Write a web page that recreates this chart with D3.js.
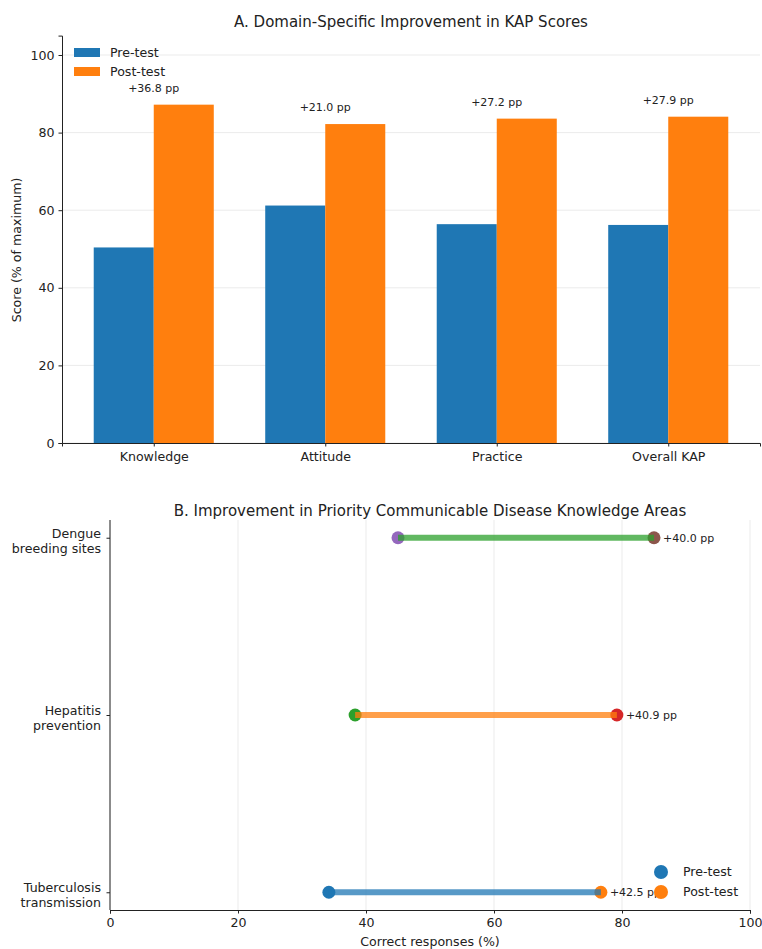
<!DOCTYPE html>
<html>
<head>
<meta charset="utf-8">
<script src="https://cdn.jsdelivr.net/npm/d3@7"></script>
<style>
  body { margin: 0; background: #fff; }
  text { font-family: "DejaVu Sans", sans-serif; fill: #222; }
  .axis path, .axis line { stroke: #222; }
  .axis text { font-size: 12.6px; font-family: "DejaVu Sans", sans-serif; fill: #222; }
</style>
</head>
<body>
<div id="chart-area"></div>
<script>

// Panel A data
let domains = ["Knowledge", "Attitude", "Practice", "Overall KAP"];
let preScores = [50.4, 61.2, 56.4, 56.2];
let postScores = [87.2, 82.2, 83.6, 84.1];
let scoreTicks = [0, 20, 40, 60, 80, 100];

// Panel B data (bottom to top)
let topics = [["Tuberculosis", "transmission"], ["Hepatitis", "prevention"], ["Dengue", "breeding sites"]];
let prePct = [34.2, 38.3, 45.0];
let postPct = [76.7, 79.2, 85.0];
let pctTicks = [0, 20, 40, 60, 80, 100];

let tab10 = ["#1f77b4", "#ff7f0e", "#2ca02c", "#d62728", "#9467bd", "#8c564b"];

let svg = d3.select("#chart-area").append("svg")
    .attr("width", 762)
    .attr("height", 949);

// ---------- Panel A ----------
let x = d3.scaleLinear().domain([-0.535, 3.535]).range([62, 760]);
let y = d3.scaleLinear().domain([0, 105]).range([443, 35.6]);
let barW = 0.35;

let gA = svg.append("g");

// grid
gA.selectAll(".grid").data(scoreTicks).enter().append("line")
    .attr("x1", 62).attr("x2", 760)
    .attr("y1", d => y(d)).attr("y2", d => y(d))
    .attr("stroke", "#e6e6e6").attr("stroke-width", 0.8);

gA.selectAll(".pre").data(preScores).enter().append("rect")
    .attr("x", (d, i) => x(i - barW))
    .attr("width", x(barW) - x(0))
    .attr("y", d => y(d))
    .attr("height", d => y(0) - y(d))
    .attr("fill", tab10[0]);

gA.selectAll(".post").data(postScores).enter().append("rect")
    .attr("x", (d, i) => x(i))
    .attr("width", x(barW) - x(0))
    .attr("y", d => y(d))
    .attr("height", d => y(0) - y(d))
    .attr("fill", tab10[1]);

// improvement labels
gA.selectAll(".lbl").data(postScores).enter().append("text")
    .attr("x", (d, i) => x(i))
    .attr("y", d => y(d + 3) - 1)
    .attr("text-anchor", "middle")
    .attr("font-size", "11px")
    .text((d, i) => "+" + (d - preScores[i]).toFixed(1) + " pp");

let xAxisA = d3.axisBottom(x).tickValues([0, 1, 2, 3])
    .tickFormat(i => domains[i]).tickSizeOuter(0).tickSize(3.5).tickPadding(6);
gA.append("g").attr("class", "axis")
    .attr("transform", "translate(0,443)")
    .call(xAxisA);

let yAxisA = d3.axisLeft(y).tickValues(scoreTicks).tickSizeOuter(0).tickSize(3.5).tickPadding(4);
gA.append("g").attr("class", "axis")
    .attr("transform", "translate(62,0)")
    .call(yAxisA);

gA.append("text")
    .attr("x", 411).attr("y", 27)
    .attr("text-anchor", "middle")
    .attr("font-size", "15px")
    .text("A. Domain-Specific Improvement in KAP Scores");

gA.append("text")
    .attr("transform", "translate(21,250) rotate(-90)")
    .attr("text-anchor", "middle")
    .attr("font-size", "12.6px")
    .text("Score (% of maximum)");

// legend
let legA = gA.append("g").attr("transform", "translate(74,48)");
["Pre-test", "Post-test"].forEach((t, i) => {
  legA.append("rect").attr("x", 0).attr("y", i * 19).attr("width", 26).attr("height", 9)
      .attr("fill", tab10[i]);
  legA.append("text").attr("x", 36).attr("y", i * 19 + 9).attr("font-size", "12.6px").text(t);
});

// ---------- Panel B ----------
let xb = d3.scaleLinear().domain([0, 100]).range([110, 750]);
let yb = d3.scaleLinear().domain([-0.1, 2.1]).range([910, 520]);

let gB = svg.append("g");

gB.selectAll(".vgrid").data(pctTicks).enter().append("line")
    .attr("x1", d => xb(d)).attr("x2", d => xb(d))
    .attr("y1", 520).attr("y2", 910)
    .attr("stroke", "#e6e6e6").attr("stroke-width", 0.8);

topics.forEach((t, i) => {
  gB.append("circle").attr("cx", xb(prePct[i])).attr("cy", yb(i)).attr("r", 6.5)
      .attr("fill", tab10[i * 2]);
  gB.append("circle").attr("cx", xb(postPct[i])).attr("cy", yb(i)).attr("r", 6.5)
      .attr("fill", tab10[i * 2 + 1]);
  gB.append("line")
      .attr("x1", xb(prePct[i])).attr("x2", xb(postPct[i]))
      .attr("y1", yb(i)).attr("y2", yb(i))
      .attr("stroke", tab10[i]).attr("stroke-width", 6).attr("stroke-opacity", 0.75);
  gB.append("text")
      .attr("x", xb(postPct[i]) + 9).attr("y", yb(i) + 4)
      .attr("font-size", "11px")
      .text("+" + (postPct[i] - prePct[i]).toFixed(1) + " pp");
});

let xAxisB = d3.axisBottom(xb).tickValues(pctTicks).tickSizeOuter(0).tickSize(3.5).tickPadding(5);
gB.append("g").attr("class", "axis")
    .attr("transform", "translate(0,910)")
    .call(xAxisB);

let yAxisB = d3.axisLeft(yb).tickValues([0, 1, 2]).tickFormat("").tickSizeOuter(0).tickSize(3.5);
let yAxisBGroup = gB.append("g").attr("class", "axis")
    .attr("transform", "translate(110,0)")
    .call(yAxisB);
yAxisBGroup.select(".domain").attr("d", "M0,520V910");

topics.forEach((t, i) => {
  let tx = gB.append("text")
      .attr("x", 101).attr("y", yb(i))
      .attr("text-anchor", "end")
      .attr("font-size", "12.6px");
  tx.append("tspan").attr("x", 101).attr("dy", 0).text(t[0]);
  tx.append("tspan").attr("x", 101).attr("dy", 15).text(t[1]);
});

gB.append("text")
    .attr("x", 430).attr("y", 516)
    .attr("text-anchor", "middle")
    .attr("font-size", "15px")
    .text("B. Improvement in Priority Communicable Disease Knowledge Areas");

gB.append("text")
    .attr("x", 430).attr("y", 946)
    .attr("text-anchor", "middle")
    .attr("font-size", "12.6px")
    .text("Correct responses (%)");

let legB = gB.append("g").attr("transform", "translate(661,872)");
["Pre-test", "Post-test"].forEach((t, i) => {
  legB.append("circle").attr("cx", 0).attr("cy", i * 20).attr("r", 7).attr("fill", tab10[i]);
  legB.append("text").attr("x", 22).attr("y", i * 20 + 4).attr("font-size", "12.6px").text(t);
});

</script>
</body>
</html>
